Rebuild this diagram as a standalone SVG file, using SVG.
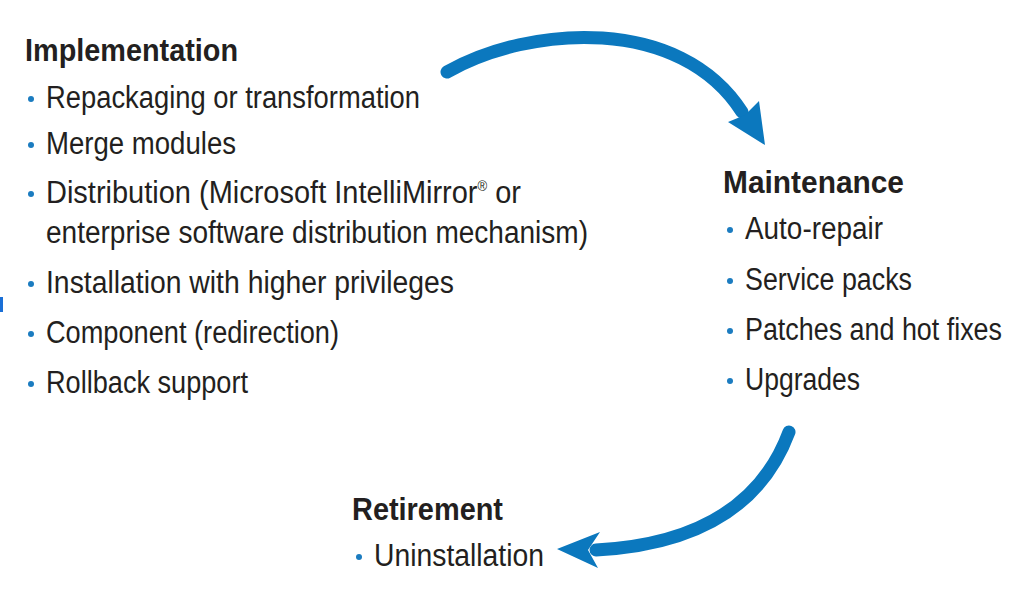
<svg xmlns="http://www.w3.org/2000/svg" width="1011" height="608" viewBox="0 0 1011 608">
<style>
.h{font-family:"Liberation Sans",Arial,sans-serif;font-weight:bold;font-size:31px;fill:#231f20}
.t{font-family:"Liberation Sans",Arial,sans-serif;font-size:31px;fill:#231f20}
.b{fill:#1b7cc0}
.arr{fill:none;stroke:#0b78be;stroke-width:13;stroke-linecap:round}
.head{fill:#0b78be}
</style>
<rect width="1011" height="608" fill="#ffffff"/>
<rect x="0" y="297" width="3" height="15" fill="#1a6fd6"/>
<g id="implementation">
<text class="h" x="25" y="61" textLength="213" lengthAdjust="spacingAndGlyphs">Implementation</text>
<circle class="b" cx="31" cy="99" r="3"/>
<text class="t" x="46" y="108" textLength="374" lengthAdjust="spacingAndGlyphs">Repackaging or transformation</text>
<circle class="b" cx="31" cy="145" r="3"/>
<text class="t" x="46" y="154" textLength="190" lengthAdjust="spacingAndGlyphs">Merge modules</text>
<circle class="b" cx="31" cy="194" r="3"/>
<text class="t" x="46" y="203" textLength="475" lengthAdjust="spacingAndGlyphs">Distribution (Microsoft IntelliMirror<tspan font-size="14" dy="-12">®</tspan><tspan dy="12"> or</tspan></text>
<text class="t" x="46" y="243" textLength="542" lengthAdjust="spacingAndGlyphs">enterprise software distribution mechanism)</text>
<circle class="b" cx="31" cy="284" r="3"/>
<text class="t" x="46" y="293" textLength="408" lengthAdjust="spacingAndGlyphs">Installation with higher privileges</text>
<circle class="b" cx="31" cy="334" r="3"/>
<text class="t" x="46" y="343" textLength="293" lengthAdjust="spacingAndGlyphs">Component (redirection)</text>
<circle class="b" cx="31" cy="384" r="3"/>
<text class="t" x="46" y="393" textLength="202" lengthAdjust="spacingAndGlyphs">Rollback support</text>
</g>
<g id="maintenance">
<text class="h" x="723" y="193" textLength="181" lengthAdjust="spacingAndGlyphs">Maintenance</text>
<circle class="b" cx="730" cy="230" r="3"/>
<text class="t" x="745" y="239" textLength="138" lengthAdjust="spacingAndGlyphs">Auto-repair</text>
<circle class="b" cx="730" cy="281" r="3"/>
<text class="t" x="745" y="290" textLength="167" lengthAdjust="spacingAndGlyphs">Service packs</text>
<circle class="b" cx="730" cy="331" r="3"/>
<text class="t" x="745" y="340" textLength="257" lengthAdjust="spacingAndGlyphs">Patches and hot fixes</text>
<circle class="b" cx="730" cy="381" r="3"/>
<text class="t" x="745" y="390" textLength="115" lengthAdjust="spacingAndGlyphs">Upgrades</text>
</g>
<g id="retirement">
<text class="h" x="352" y="520" textLength="151" lengthAdjust="spacingAndGlyphs">Retirement</text>
<circle class="b" cx="359" cy="557" r="3"/>
<text class="t" x="374" y="566" textLength="170" lengthAdjust="spacingAndGlyphs">Uninstallation</text>
</g>
<g id="connectors">
<path class="arr" d="M447,72 C530,25 680,15 742,112"/>
<polygon class="head" points="765,145 728,122 745,115 759,101"/>
<path class="arr" d="M789,432 C760,510 690,545 596,550"/>
<polygon class="head" points="557,549 600,532 588,550 598,568"/>
</g>
</svg>
